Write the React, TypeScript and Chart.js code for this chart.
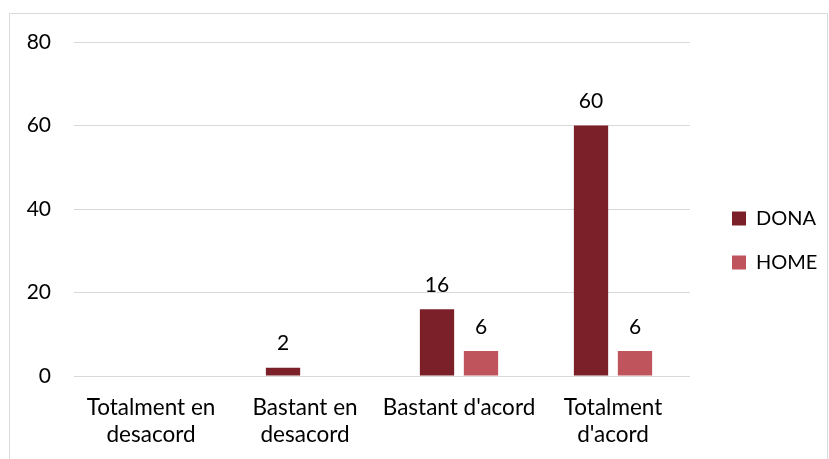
import { useEffect, useRef } from "react";
import { Chart, registerables } from "chart.js";

Chart.register(...registerables);

const categories: (string | string[])[] = [
  ["Totalment en", "desacord"],
  ["Bastant en", "desacord"],
  "Bastant d'acord",
  ["Totalment", "d'acord"],
];
const donaValues: (number | null)[] = [null, 2, 16, 60];
const homeValues: (number | null)[] = [null, null, 6, 6];
const seriesNames = ["DONA", "HOME"];
const seriesColors = ["#7B2028", "#C0545C"];
const yMin = 0;
const yMax = 80;
const yStep = 20;

const FONT_FAMILY = "Lato, 'Noto Sans', sans-serif";
const FONT_SIZE = 21;
const TEXT_COLOR = "#000000";
const GRID_COLOR = "#d9d9d9";

const framePlugin = {
  id: "frame",
  beforeDraw(chart: any) {
    const ctx = chart.ctx;
    ctx.save();
    ctx.strokeStyle = GRID_COLOR;
    ctx.lineWidth = 1;
    ctx.beginPath();
    ctx.moveTo(9.5, chart.height + 2);
    ctx.lineTo(9.5, 13.5);
    ctx.lineTo(827.5, 13.5);
    ctx.lineTo(827.5, chart.height + 2);
    ctx.stroke();
    ctx.restore();
  },
};

const legendPlacePlugin = {
  id: "legendPlace",
  beforeLayout(chart: any) {
    const l = chart.legend;
    if (l && !l.__patched) {
      const orig = l.fit;
      l.fit = function () {
        orig.call(this);
        this.width = 139;
      };
      l.__patched = true;
    }
  },
  afterLayout(chart: any) {
    const l = chart.legend;
    if (!l) return;
    const dx = 708 - l.left;
    l.left += dx;
    l.right += dx;
    l.top -= 10;
    l.bottom -= 10;
  },
};

const valueLabelPlugin = {
  id: "valueLabels",
  afterDatasetsDraw(chart: any) {
    const ctx = chart.ctx;
    ctx.save();
    ctx.font = `${FONT_SIZE}px ${FONT_FAMILY}`;
    ctx.fillStyle = TEXT_COLOR;
    ctx.textAlign = "center";
    ctx.textBaseline = "middle";
    chart.data.datasets.forEach((ds: any, di: number) => {
      const meta = chart.getDatasetMeta(di);
      meta.data.forEach((el: any, i: number) => {
        const v = ds.data[i];
        if (v === null || v === undefined) return;
        ctx.fillText(String(v), el.x, el.y - 24);
      });
    });
    ctx.restore();
  },
};

export default function App() {
  const canvasRef = useRef<HTMLCanvasElement | null>(null);

  useEffect(() => {
    if (!canvasRef.current) return;
    const chart = new Chart(canvasRef.current, {
      type: "bar",
      data: {
        labels: categories,
        datasets: [
          {
            label: seriesNames[0],
            data: donaValues,
            backgroundColor: seriesColors[0],
            categoryPercentage: 0.571,
            barPercentage: 0.78,
          },
          {
            label: seriesNames[1],
            data: homeValues,
            backgroundColor: seriesColors[1],
            categoryPercentage: 0.571,
            barPercentage: 0.78,
          },
        ],
      },
      options: {
        responsive: false,
        animation: false,
        devicePixelRatio: 1,
        layout: { padding: { top: 42, right: 0, bottom: 0, left: 0 } },
        plugins: {
          legend: {
            position: "right",
            labels: {
              boxWidth: 14,
              boxHeight: 14,
              padding: 24,
              color: TEXT_COLOR,
              font: { family: FONT_FAMILY, size: 20 },
            },
          },
          tooltip: { enabled: false },
        },
        scales: {
          x: {
            grid: { display: false, drawTicks: false },
            border: { display: false },
            ticks: {
              color: TEXT_COLOR,
              padding: 18,
              maxRotation: 0,
              autoSkip: false,
              font: { family: FONT_FAMILY, size: 22.5, lineHeight: 1.2 },
            },
            afterFit(scale: any) {
              scale.height = 83;
            },
          },
          y: {
            min: yMin,
            max: yMax,
            grid: { color: GRID_COLOR, lineWidth: 1, drawTicks: false },
            border: { display: false },
            ticks: {
              stepSize: yStep,
              color: TEXT_COLOR,
              padding: 23,
              font: { family: FONT_FAMILY, size: FONT_SIZE },
            },
            afterFit(scale: any) {
              scale.width = 74;
            },
          },
        },
      },
      plugins: [framePlugin, legendPlacePlugin, valueLabelPlugin],
    });
    return () => chart.destroy();
  }, []);

  return (
    <div style={{ position: "absolute", left: 0, top: 0, width: 829, height: 459, background: "#fff" }}>
      <canvas ref={canvasRef} width={829} height={459} style={{ display: "block" }} />
    </div>
  );
}
